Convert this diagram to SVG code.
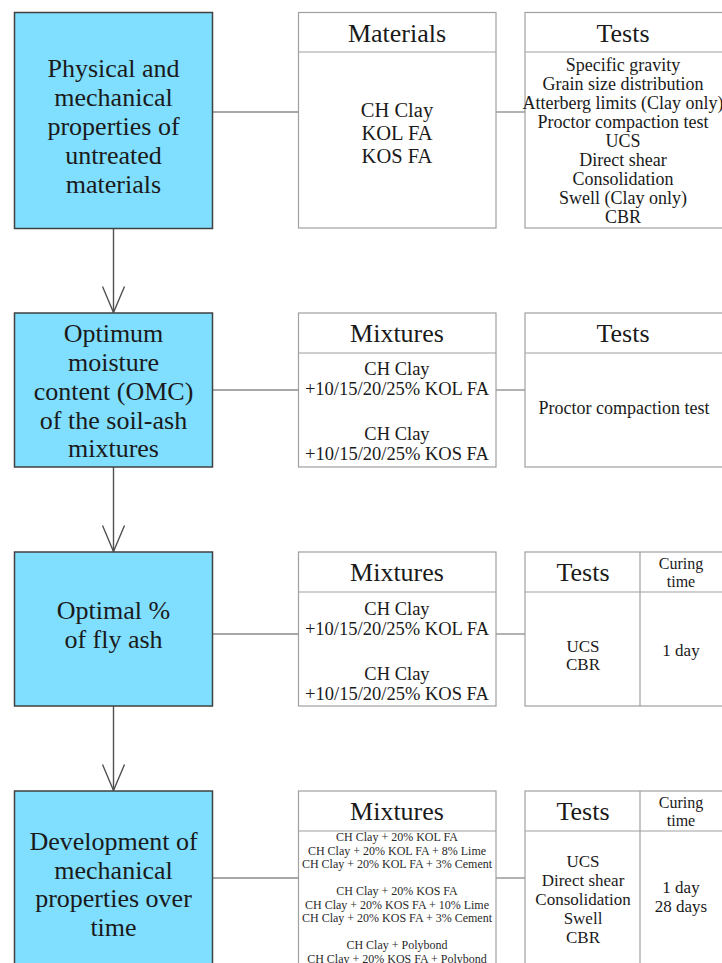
<svg xmlns="http://www.w3.org/2000/svg" width="722" height="963" viewBox="0 0 722 963" font-family="'Liberation Serif', 'DejaVu Serif', serif">
<style>
  .stage { fill: #80DEFF; stroke: #404040; stroke-width: 1.5; }
  .box { fill: #ffffff; stroke: #a0a0a0; stroke-width: 1.2; }
  .sep { stroke: #a0a0a0; stroke-width: 1.2; fill: none; }
  .conn { stroke: #8a8a8a; stroke-width: 1.3; fill: none; }
  .arrow { stroke: #505050; stroke-width: 1.4; fill: none; }
  text { font-family: 'Liberation Serif', 'DejaVu Serif', serif; fill: #1a1a1a; text-anchor: middle; }
  .big { font-size: 26px; }
  .hdr { font-size: 26px; }
  .mat { font-size: 20.5px; }
  .mix { font-size: 18.5px; }
  .lst { font-size: 18px; }
  .cur { font-size: 17px; }
  .cu2 { font-size: 16px; }
  .sml { font-size: 12px; fill: #2a2a2a; }
</style>
<defs>
  <marker id="vhead" viewBox="0 0 28 24" refX="27" refY="12" markerWidth="28" markerHeight="24" markerUnits="userSpaceOnUse" orient="auto">
    <path d="M1,1 L27,12 L1,23" fill="none" stroke="#505050" stroke-width="1.4"/>
  </marker>
</defs>

<g id="connectors">
  <line class="conn" x1="212.5" y1="112" x2="298.5" y2="112"/>
  <line class="conn" x1="496" y1="112" x2="525" y2="112"/>
  <line class="conn" x1="212.5" y1="390" x2="298.5" y2="390"/>
  <line class="conn" x1="496" y1="390" x2="525" y2="390"/>
  <line class="conn" x1="212.5" y1="634" x2="298.5" y2="634"/>
  <line class="conn" x1="496" y1="634" x2="525" y2="634"/>
  <line class="conn" x1="212.5" y1="878" x2="298.5" y2="878"/>
  <line class="conn" x1="496" y1="878" x2="525" y2="878"/>
  <line class="arrow" x1="113.5" y1="228.5" x2="113.5" y2="312.5" marker-end="url(#vhead)"/>
  <line class="arrow" x1="113.5" y1="467" x2="113.5" y2="551.5" marker-end="url(#vhead)"/>
  <line class="arrow" x1="113.5" y1="706" x2="113.5" y2="790.5" marker-end="url(#vhead)"/>
</g>

<g id="stage1">
  <rect class="stage" x="14.5" y="12.5" width="198" height="216"/>
  <text class="big" x="113.5" y="77">Physical and</text>
  <text class="big" x="113.5" y="106">mechanical</text>
  <text class="big" x="113.5" y="135">properties of</text>
  <text class="big" x="113.5" y="164">untreated</text>
  <text class="big" x="113.5" y="193">materials</text>
</g>

<g id="materials1">
  <rect class="box" x="298.5" y="12.5" width="197.5" height="215.5"/>
  <line class="sep" x1="298.5" y1="52" x2="496" y2="52"/>
  <text class="hdr" x="397" y="42">Materials</text>
  <text class="mat" x="397" y="117">CH Clay</text>
  <text class="mat" x="397" y="140">KOL FA</text>
  <text class="mat" x="397" y="163">KOS FA</text>
</g>

<g id="tests1">
  <rect class="box" x="525" y="12.5" width="210" height="215.5"/>
  <line class="sep" x1="525" y1="52" x2="735" y2="52"/>
  <text class="hdr" x="623" y="42">Tests</text>
  <text class="lst" x="623" y="71">Specific gravity</text>
  <text class="lst" x="623" y="90">Grain size distribution</text>
  <text class="lst" x="623" y="109">Atterberg limits (Clay only)</text>
  <text class="lst" x="623" y="128">Proctor compaction test</text>
  <text class="lst" x="623" y="147">UCS</text>
  <text class="lst" x="623" y="166">Direct shear</text>
  <text class="lst" x="623" y="185">Consolidation</text>
  <text class="lst" x="623" y="204">Swell (Clay only)</text>
  <text class="lst" x="623" y="223">CBR</text>
</g>

<g id="stage2">
  <rect class="stage" x="14.5" y="313" width="198" height="154"/>
  <text class="big" x="113.5" y="342">Optimum</text>
  <text class="big" x="113.5" y="371">moisture</text>
  <text class="big" x="113.5" y="400">content (OMC)</text>
  <text class="big" x="113.5" y="428.5">of the soil-ash</text>
  <text class="big" x="113.5" y="457">mixtures</text>
</g>

<g id="mixtures2">
  <rect class="box" x="298.5" y="313" width="197.5" height="154"/>
  <line class="sep" x1="298.5" y1="353" x2="496" y2="353"/>
  <text class="hdr" x="397" y="342">Mixtures</text>
  <text class="mix" x="397" y="375">CH Clay</text>
  <text class="mix" x="397" y="395">+10/15/20/25% KOL FA</text>
  <text class="mix" x="397" y="440">CH Clay</text>
  <text class="mix" x="397" y="460">+10/15/20/25% KOS FA</text>
</g>

<g id="tests2">
  <rect class="box" x="525" y="313" width="210" height="154"/>
  <line class="sep" x1="525" y1="353" x2="735" y2="353"/>
  <text class="hdr" x="623" y="342">Tests</text>
  <text class="lst" x="624" y="414">Proctor compaction test</text>
</g>

<g id="stage3">
  <rect class="stage" x="14.5" y="552" width="198" height="154"/>
  <text class="big" x="113.5" y="619">Optimal %</text>
  <text class="big" x="113.5" y="648">of fly ash</text>
</g>

<g id="mixtures3">
  <rect class="box" x="298.5" y="552" width="197.5" height="154"/>
  <line class="sep" x1="298.5" y1="592" x2="496" y2="592"/>
  <text class="hdr" x="397" y="581">Mixtures</text>
  <text class="mix" x="397" y="615">CH Clay</text>
  <text class="mix" x="397" y="635">+10/15/20/25% KOL FA</text>
  <text class="mix" x="397" y="680">CH Clay</text>
  <text class="mix" x="397" y="700">+10/15/20/25% KOS FA</text>
</g>

<g id="tests3">
  <rect class="box" x="525" y="552" width="210" height="154"/>
  <line class="sep" x1="525" y1="592" x2="735" y2="592"/>
  <line class="sep" x1="640" y1="552" x2="640" y2="706"/>
  <text class="hdr" x="583" y="581">Tests</text>
  <text class="cu2" x="681" y="569">Curing</text>
  <text class="cu2" x="681" y="587">time</text>
  <text class="cur" x="583" y="652">UCS</text>
  <text class="cur" x="583" y="670">CBR</text>
  <text class="cur" x="681" y="656">1 day</text>
</g>

<g id="stage4">
  <rect class="stage" x="14.5" y="791" width="198" height="190"/>
  <text class="big" x="113.5" y="850">Development of</text>
  <text class="big" x="113.5" y="878.5">mechanical</text>
  <text class="big" x="113.5" y="907">properties over</text>
  <text class="big" x="113.5" y="935.5">time</text>
</g>

<g id="mixtures4">
  <rect class="box" x="298.5" y="791" width="197.5" height="190"/>
  <line class="sep" x1="298.5" y1="831" x2="496" y2="831"/>
  <text class="hdr" x="397" y="820">Mixtures</text>
  <text class="sml" x="397" y="841">CH Clay + 20% KOL FA</text>
  <text class="sml" x="397" y="854.5">CH Clay + 20% KOL FA + 8% Lime</text>
  <text class="sml" x="397" y="868">CH Clay + 20% KOL FA + 3% Cement</text>
  <text class="sml" x="397" y="895">CH Clay + 20% KOS FA</text>
  <text class="sml" x="397" y="908.5">CH Clay + 20% KOS FA + 10% Lime</text>
  <text class="sml" x="397" y="922">CH Clay + 20% KOS FA + 3% Cement</text>
  <text class="sml" x="397" y="949">CH Clay + Polybond</text>
  <text class="sml" x="397" y="962.5">CH Clay + 20% KOS FA + Polybond</text>
</g>

<g id="tests4">
  <rect class="box" x="525" y="791" width="210" height="190"/>
  <line class="sep" x1="525" y1="831" x2="735" y2="831"/>
  <line class="sep" x1="640" y1="791" x2="640" y2="981"/>
  <text class="hdr" x="583" y="820">Tests</text>
  <text class="cu2" x="681" y="808">Curing</text>
  <text class="cu2" x="681" y="826">time</text>
  <text class="cur" x="583" y="867">UCS</text>
  <text class="cur" x="583" y="886">Direct shear</text>
  <text class="cur" x="583" y="905">Consolidation</text>
  <text class="cur" x="583" y="924">Swell</text>
  <text class="cur" x="583" y="943">CBR</text>
  <text class="cur" x="681" y="893">1 day</text>
  <text class="cur" x="681" y="912">28 days</text>
</g>
</svg>
